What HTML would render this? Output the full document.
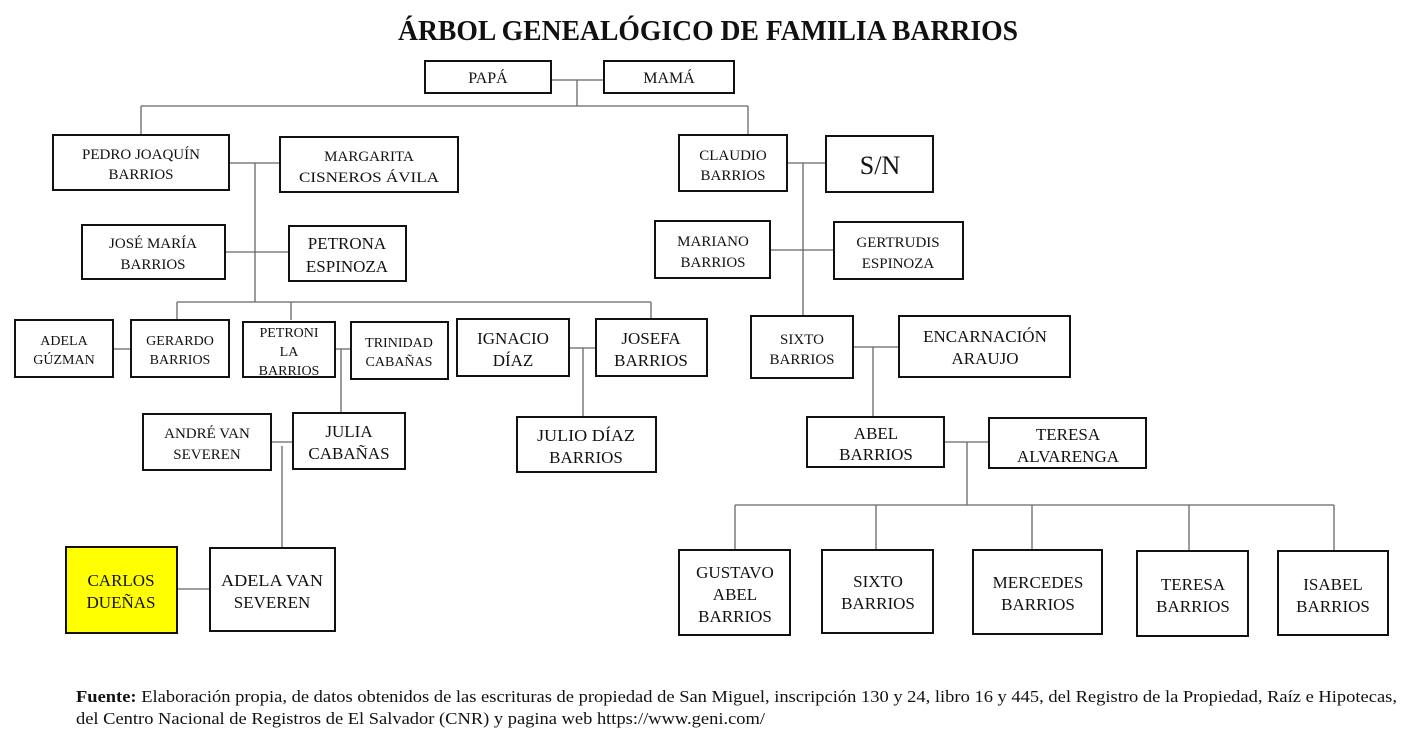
<!DOCTYPE html>
<html><head><meta charset="utf-8"><style>
html,body{margin:0;padding:0;background:#fff;}
svg{display:block;}
text{font-family:"Liberation Serif","Times New Roman",serif;fill:#111;}
</style></head><body>
<svg width="1402" height="747" viewBox="0 0 1402 747" xmlns="http://www.w3.org/2000/svg" font-family="Liberation Serif, Times New Roman, serif">
<text x="708" y="40" text-anchor="middle" font-size="29" font-weight="bold" textLength="620" lengthAdjust="spacingAndGlyphs">ÁRBOL GENEALÓGICO DE FAMILIA BARRIOS</text>

<g stroke="#666" stroke-width="1.3" fill="none">
<path d="M551 80H604M577 80V106M141 106H748M141 106V135M748 106V135"/>
<path d="M229 163H280M255 163V302M225 252H289M177 302H651M177 302V320M291 302V320M651 302V319"/>
<path d="M113 349H131M335 349H351M341 349V413"/>
<path d="M569 348H596M583 348V417"/>
<path d="M271 442H293M282 446V548M177 589H210"/>
<path d="M787 163H826M803 163V316M770 250H834M853 347H899M873 347V417M944 442H989M967 442V505"/>
<path d="M735 505H1334M735 505V550M876 505V550M1032 505V550M1189 505V551M1334 505V551"/>
</g>

<g stroke="#111" stroke-width="2" fill="#fff">
<rect x="425" y="61" width="126" height="32"/>
<rect x="604" y="61" width="130" height="32"/>
<rect x="53" y="135" width="176" height="55"/>
<rect x="280" y="137" width="178" height="55"/>
<rect x="82" y="225" width="143" height="54"/>
<rect x="289" y="226" width="117" height="55"/>
<rect x="15" y="320" width="98" height="57"/>
<rect x="131" y="320" width="98" height="57"/>
<rect x="243" y="322" width="92" height="55"/>
<rect x="351" y="322" width="97" height="57"/>
<rect x="457" y="319" width="112" height="57"/>
<rect x="596" y="319" width="111" height="57"/>
<rect x="517" y="417" width="139" height="55"/>
<rect x="143" y="414" width="128" height="56"/>
<rect x="293" y="413" width="112" height="56"/>
<rect x="66" y="547" width="111" height="86" fill="#ffff00"/>
<rect x="210" y="548" width="125" height="83"/>
<rect x="679" y="135" width="108" height="56"/>
<rect x="826" y="136" width="107" height="56"/>
<rect x="655" y="221" width="115" height="57"/>
<rect x="834" y="222" width="129" height="57"/>
<rect x="751" y="316" width="102" height="62"/>
<rect x="899" y="316" width="171" height="61"/>
<rect x="807" y="417" width="137" height="50"/>
<rect x="989" y="418" width="157" height="50"/>
<rect x="679" y="550" width="111" height="85"/>
<rect x="822" y="550" width="111" height="83"/>
<rect x="973" y="550" width="129" height="84"/>
<rect x="1137" y="551" width="111" height="85"/>
<rect x="1278" y="551" width="110" height="84"/>
</g>

<g text-anchor="middle" font-size="16">
<text x="488" y="83">PAPÁ</text>
<text x="669" y="83">MAMÁ</text>
<text x="141" y="159" font-size="15">PEDRO JOAQUÍN</text><text x="141" y="179" font-size="15">BARRIOS</text>
<text x="369" y="161" font-size="15">MARGARITA</text><text x="369" y="182" font-size="15" textLength="140" lengthAdjust="spacingAndGlyphs">CISNEROS ÁVILA</text>
<text x="153" y="248" font-size="15">JOSÉ MARÍA</text><text x="153" y="269" font-size="15">BARRIOS</text>
<text x="347" y="249" font-size="17">PETRONA</text><text x="347" y="272" font-size="17">ESPINOZA</text>
<text x="64" y="345" font-size="14">ADELA</text><text x="64" y="364" font-size="14">GÚZMAN</text>
<text x="180" y="345" font-size="14">GERARDO</text><text x="180" y="364" font-size="14">BARRIOS</text>
<text x="289" y="337" font-size="14">PETRONI</text><text x="289" y="356" font-size="14">LA</text><text x="289" y="375" font-size="14">BARRIOS</text>
<text x="399" y="347" font-size="14">TRINIDAD</text><text x="399" y="366" font-size="14">CABAÑAS</text>
<text x="513" y="344" font-size="17">IGNACIO</text><text x="513" y="366" font-size="17">DÍAZ</text>
<text x="651" y="344" font-size="17">JOSEFA</text><text x="651" y="366" font-size="17">BARRIOS</text>
<text x="586" y="441" font-size="17" textLength="98" lengthAdjust="spacingAndGlyphs">JULIO DÍAZ</text><text x="586" y="463" font-size="17">BARRIOS</text>
<text x="207" y="438" font-size="15">ANDRÉ VAN</text><text x="207" y="459" font-size="15">SEVEREN</text>
<text x="349" y="437" font-size="17">JULIA</text><text x="349" y="459" font-size="17">CABAÑAS</text>
<text x="121" y="586" font-size="17">CARLOS</text><text x="121" y="608" font-size="17">DUEÑAS</text>
<text x="272" y="586" font-size="17" textLength="102" lengthAdjust="spacingAndGlyphs">ADELA VAN</text><text x="272" y="608" font-size="17">SEVEREN</text>
<text x="733" y="160" font-size="15">CLAUDIO</text><text x="733" y="180" font-size="15">BARRIOS</text>
<text x="880" y="174" font-size="26">S/N</text>
<text x="713" y="246" font-size="15">MARIANO</text><text x="713" y="267" font-size="15">BARRIOS</text>
<text x="898" y="247" font-size="15">GERTRUDIS</text><text x="898" y="268" font-size="15">ESPINOZA</text>
<text x="802" y="344" font-size="15">SIXTO</text><text x="802" y="364" font-size="15">BARRIOS</text>
<text x="985" y="342" font-size="17">ENCARNACIÓN</text><text x="985" y="364" font-size="17">ARAUJO</text>
<text x="876" y="439" font-size="17">ABEL</text><text x="876" y="460" font-size="17">BARRIOS</text>
<text x="1068" y="440" font-size="17">TERESA</text><text x="1068" y="462" font-size="17">ALVARENGA</text>
<text x="735" y="578" font-size="17">GUSTAVO</text><text x="735" y="600" font-size="17">ABEL</text><text x="735" y="622" font-size="17">BARRIOS</text>
<text x="878" y="587" font-size="17">SIXTO</text><text x="878" y="609" font-size="17">BARRIOS</text>
<text x="1038" y="588" font-size="17">MERCEDES</text><text x="1038" y="610" font-size="17">BARRIOS</text>
<text x="1193" y="590" font-size="17">TERESA</text><text x="1193" y="612" font-size="17">BARRIOS</text>
<text x="1333" y="590" font-size="17">ISABEL</text><text x="1333" y="612" font-size="17">BARRIOS</text>
</g>

<text x="76" y="702" font-size="17" textLength="1321" lengthAdjust="spacingAndGlyphs"><tspan font-weight="bold">Fuente:</tspan> Elaboración propia, de datos obtenidos de las escrituras de propiedad de San Miguel, inscripción 130 y 24, libro 16 y 445, del Registro de la Propiedad, Raíz e Hipotecas,</text>
<text x="76" y="724" font-size="17" textLength="689" lengthAdjust="spacingAndGlyphs">del Centro Nacional de Registros de El Salvador (CNR) y pagina web https://www.geni.com/</text>
</svg>
</body></html>
